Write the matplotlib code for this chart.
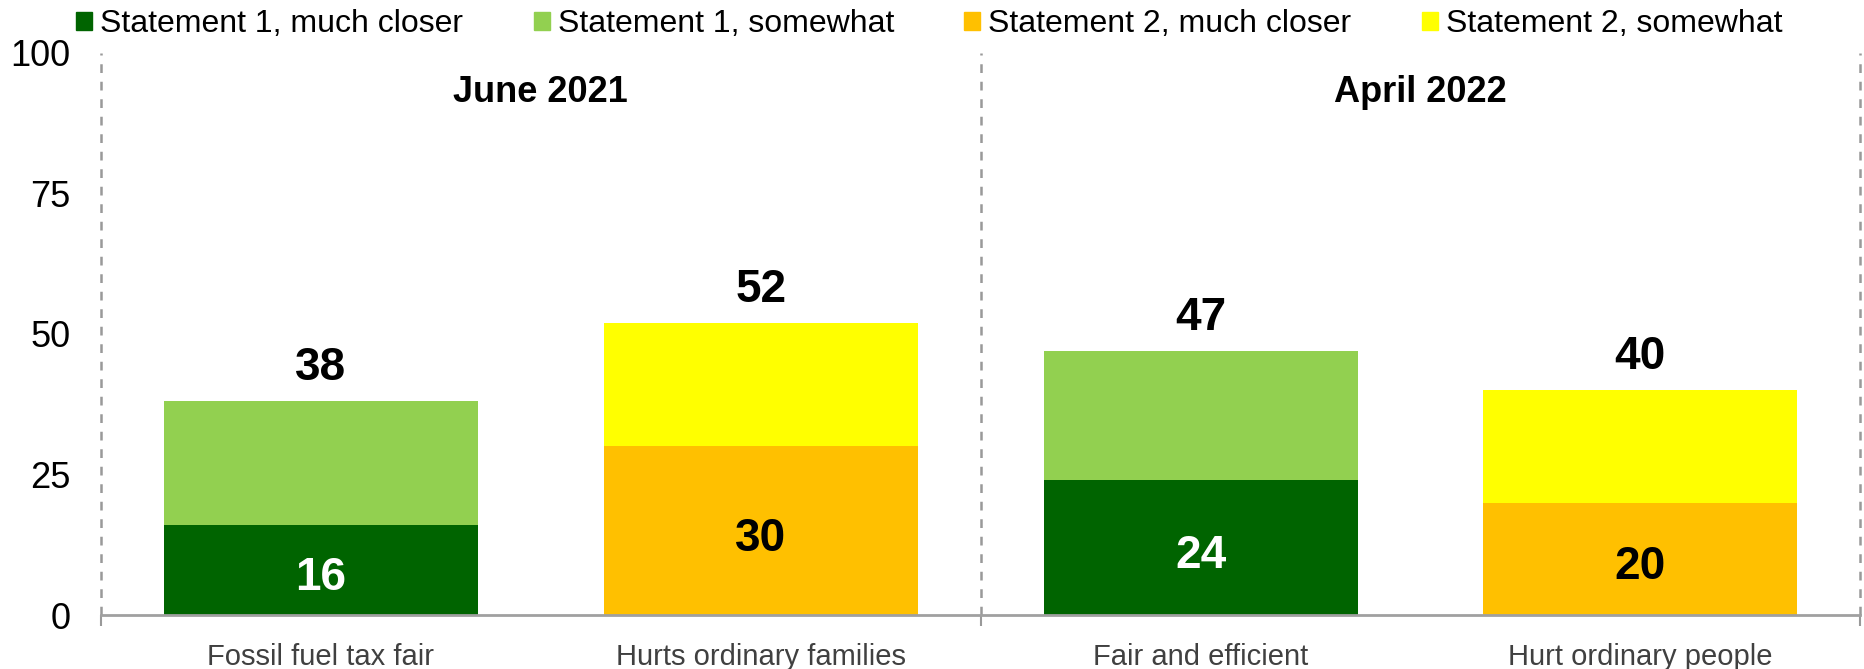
import matplotlib.pyplot as plt
import numpy as np
from matplotlib.patches import Patch

plt.rcParams["font.family"] = ["Liberation Sans", "DejaVu Sans"]

# data
categories = ["Fossil fuel tax fair", "Hurts ordinary families",
              "Fair and efficient", "Hurt ordinary people"]
much_closer = [16, 30, 24, 20]
somewhat = [22, 22, 23, 20]
totals = [38, 52, 47, 40]
statement = [1, 2, 1, 2]
groups = ["June 2021", "April 2022"]
series = ["Statement 1, much closer", "Statement 1, somewhat",
          "Statement 2, much closer", "Statement 2, somewhat"]
yticks = [0, 25, 50, 75, 100]

DARK = {1: "#006400", 2: "#FFC000"}
LIGHT = {1: "#92D050", 2: "#FFFF00"}
INNER_TXT = {1: "white", 2: "black"}

fig = plt.figure(figsize=(18.64, 6.69), dpi=100)
ax = fig.add_axes([0.0542, 0.0807, 0.9438, 0.8401])

x = np.arange(len(categories))
w = 0.714
for xi, lo, hi, st, tot in zip(x, much_closer, somewhat, statement, totals):
    ax.bar(xi, lo, w, color=DARK[st], zorder=3)
    ax.bar(xi, hi, w, bottom=lo, color=LIGHT[st], zorder=3)
    ax.text(xi, lo / 2 - 1.5, f"{lo}", ha="center", va="center",
            fontsize=33, fontweight="bold", color=INNER_TXT[st], zorder=4)
    ax.text(xi, tot + 2.0, f"{tot}", ha="center", va="bottom",
            fontsize=33, fontweight="bold", color="black", zorder=4)

# group separators and titles
for xs in (-0.5, 1.5, 3.5):
    ax.plot([xs, xs], [0, 100], color="#999999", lw=1.8,
            ls=(0, (3.5, 3.5)), zorder=2, clip_on=False)
for gi, g in enumerate(groups):
    ax.text(0.5 + 2 * gi, 93.0, g, ha="center", va="center",
            fontsize=26, fontweight="bold")

ax.set_xlim(-0.5, 3.5)
ax.set_ylim(0, 100)
ax.set_yticks(yticks)
ax.tick_params(axis="y", length=0, labelsize=26, pad=22)
ax.set_xticks(x)
ax.set_xticklabels(categories, fontsize=21, color="#404040")
ax.tick_params(axis="x", which="major", length=0, pad=20)
ax.set_xticks([-0.5, 1.5, 3.5], minor=True)
ax.tick_params(axis="x", which="minor", length=8, width=1.5, color="#999999")

for s in ("top", "right", "left"):
    ax.spines[s].set_visible(False)
ax.spines["bottom"].set_color("#a0a0a0")
ax.spines["bottom"].set_linewidth(2)
ax.spines["bottom"].set_zorder(5)

handles = [Patch(color=c) for c in (DARK[1], LIGHT[1], DARK[2], LIGHT[2])]
fig.legend(handles, series, loc="center left", bbox_to_anchor=(0.041, 0.964),
           ncol=4, frameon=False, fontsize=23, handlelength=0.5,
           handleheight=0.5, handletextpad=0.25, columnspacing=2.2,
           borderpad=0, borderaxespad=0)

fig.savefig("out.png", dpi=100)
plt.close(fig)
